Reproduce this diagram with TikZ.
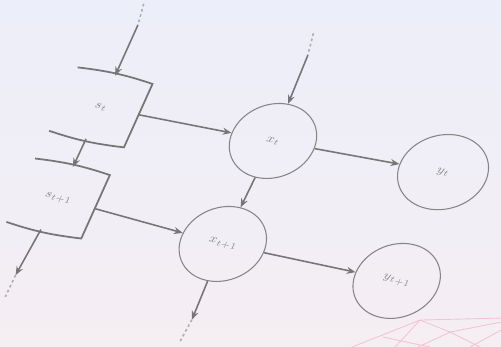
\documentclass[tikz,border=0pt]{standalone}
\usetikzlibrary{shapes.geometric,arrows.meta}

\definecolor{skytop}{HTML}{ECEEF9}
\definecolor{skybot}{HTML}{F5EEF3}
\definecolor{inkline}{HTML}{767676}
\definecolor{inkring}{HTML}{858585}
\definecolor{inktext}{HTML}{8A8A8A}
\definecolor{meshpink}{HTML}{F3C3D3}

\begin{document}
\begin{tikzpicture}[
    >={Stealth[length=5pt,width=4pt]},
    state/.style={minimum width=1.52cm, minimum height=1.38cm, inner sep=0pt,
                  font=\scriptsize, text=inktext, transform shape},
    unit/.style={ellipse, draw=inkring, line width=0.6pt, minimum width=1.66cm,
                 minimum height=1.6cm, inner sep=0pt, font=\scriptsize,
                 text=inktext, transform shape},
    boxedge/.style={draw=inkline, line width=1pt},
    flow/.style={->, line width=0.9pt, draw=inkline},
    trail/.style={line width=0.9pt, draw=inkline!60, dash pattern=on 1.5pt off 1.6pt},
    mesh/.style={draw=meshpink, line width=0.5pt}
]

% backdrop
\useasboundingbox (0,0) rectangle (10.02,-6.94);
\shade[top color=skytop, bottom color=skybot] (0,0) rectangle (10.02,-6.94);
\begin{scope}[x=0.02cm, y=-0.02cm]
  \draw[mesh] (420,320) -- (501,318);
  \draw[mesh] (420,320) -- (450,332) -- (501,322);
  \draw[mesh] (420,320) -- (352,347);
  \draw[mesh] (420,320) -- (395,347);
  \draw[mesh] (450,332) -- (418,347);
  \draw[mesh] (450,332) -- (480,347);
  \draw[mesh] (383,337) -- (430,347);
  \draw[mesh] (501,330) -- (470,347);
\end{scope}

% slanted layout of the unrolled net
\begin{scope}[cm={0.976,-0.216,0.41,0.91,(0,0)}]

\node[state] (s0) at (2.78,-1.70) {$s_t$};
\node[state] (s1) at (2.75,-3.71) {$s_{t+1}$};
\node[unit]  (x0) at (6.27,-1.61) {$x_t$};
\node[unit]  (x1) at (6.20,-3.89) {$x_{t+1}$};
\node[unit, minimum width=1.74cm] (y0) at (9.70,-1.48) {$y_t$};
\node[unit]  (y1) at (9.75,-3.86) {$y_{t+1}$};

% open-sided state boxes
\draw[boxedge] (s0.north west) to[bend left=6] (s0.north east)
    -- (s0.south east) to[bend left=6] (s0.south west);
\draw[boxedge] (s1.north west) to[bend left=6] (s1.north east)
    -- (s1.south east) to[bend left=6] (s1.south west);

% loose ends
\coordinate (s0a) at (2.78,0.11);
\coordinate (s0b) at (2.71,0.56);
\coordinate (x0a) at (6.20,0.26);
\coordinate (x0b) at (6.12,0.72);
\coordinate (s1a) at (2.60,-5.43);
\coordinate (s1b) at (2.59,-5.91);
\coordinate (x1a) at (6.26,-5.54);
\coordinate (x1b) at (6.22,-6.04);

\draw[trail] (s0b) -- (s0a);
\draw[flow]  (s0a) -- (s0);
\draw[trail] (x0b) -- (x0a);
\draw[flow]  (x0a) -- (x0);

\draw[flow] (s0) -- (x0);
\draw[flow] (x0) -- (y0);
\draw[flow] (s0) -- (s1);
\draw[flow] (x0) -- (x1);
\draw[flow] (s1) -- (x1);
\draw[flow] (x1) -- (y1);

\draw[flow]  (s1) -- (s1a);
\draw[trail] (s1a) -- (s1b);
\draw[flow]  (x1) -- (x1a);
\draw[trail] (x1a) -- (x1b);

\end{scope}

\end{tikzpicture}
\end{document}
